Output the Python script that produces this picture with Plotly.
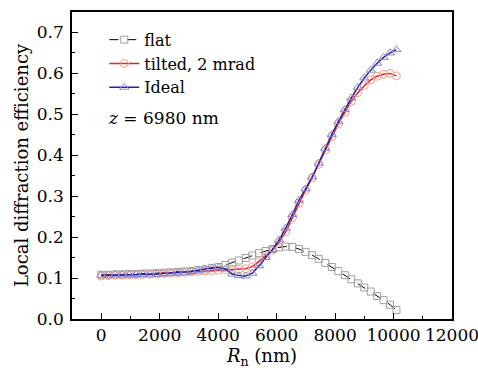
import plotly.graph_objects as go

# Data
r_nm = [0, 240, 480, 719, 958, 1196, 1434, 1671, 1908, 2144, 2380, 2615, 2850,
        3084, 3318, 3551, 3784, 4016, 4248, 4479, 4710, 4940, 5170, 5399, 5628,
        5856, 6084, 6311, 6538, 6764, 6990, 7215, 7440, 7664, 7888, 8111, 8334,
        8556, 8778, 8999, 9220, 9440, 9660, 9879, 10098]

flat = [0.108, 0.108, 0.109, 0.109, 0.110, 0.110, 0.111, 0.111, 0.112, 0.113,
        0.114, 0.115, 0.116, 0.117, 0.119, 0.121, 0.124, 0.127, 0.132, 0.138,
        0.143, 0.149, 0.155, 0.161, 0.166, 0.171, 0.175, 0.177, 0.176, 0.171,
        0.164, 0.156, 0.147, 0.137, 0.127, 0.117, 0.107, 0.097, 0.087, 0.077,
        0.067, 0.056, 0.046, 0.035, 0.022]

tilted = [0.105, 0.106, 0.107, 0.107, 0.108, 0.108, 0.109, 0.109, 0.110, 0.111,
          0.112, 0.113, 0.114, 0.115, 0.116, 0.117, 0.118, 0.119, 0.120, 0.120,
          0.121, 0.123, 0.128, 0.140, 0.154, 0.168, 0.188, 0.213, 0.247, 0.283,
          0.315, 0.345, 0.378, 0.413, 0.446, 0.477, 0.505, 0.532, 0.553, 0.570,
          0.584, 0.593, 0.598, 0.600, 0.594]

ideal = [0.107, 0.107, 0.108, 0.108, 0.108, 0.109, 0.109, 0.110, 0.110, 0.111,
         0.112, 0.113, 0.114, 0.116, 0.119, 0.122, 0.125, 0.126, 0.122, 0.110,
         0.106, 0.105, 0.112, 0.130, 0.150, 0.170, 0.193, 0.222, 0.255, 0.290,
         0.318, 0.347, 0.381, 0.417, 0.451, 0.482, 0.512, 0.540, 0.566, 0.589,
         0.608, 0.625, 0.639, 0.650, 0.658]

series_names = ["flat", "tilted, 2 mrad", "Ideal"]
x_ticks = [0, 2000, 4000, 6000, 8000, 10000, 12000]
x_tick_labels = ["0", "2000", "4000", "6000", "8000", "10000", "12000"]
y_ticks = [0.0, 0.1, 0.2, 0.3, 0.4, 0.5, 0.6, 0.7]

FONT = "DejaVu Serif"

fig = go.Figure()
fig.add_trace(go.Scatter(
    x=r_nm, y=flat, name=series_names[0], mode="lines+markers",
    line=dict(color="black", width=1, dash="dash"),
    marker=dict(symbol="square-open", size=7, color="#a0a0a0", line=dict(width=1))))
fig.add_trace(go.Scatter(
    x=r_nm, y=tilted, name=series_names[1], mode="lines+markers",
    line=dict(color="#e8202a", width=1.5),
    marker=dict(symbol="circle-open", size=8, color="#f4a08a", line=dict(width=1))))
fig.add_trace(go.Scatter(
    x=r_nm, y=ideal, name=series_names[2], mode="lines+markers",
    line=dict(color="#25259a", width=1.5),
    marker=dict(symbol="triangle-up-open", size=8, color="#8585d5", line=dict(width=1))))

fig.add_annotation(
    x=0.09, y=0.655, xref="paper", yref="paper", xanchor="left", yanchor="middle",
    text="<i>z</i> = 6980 nm", showarrow=False,
    font=dict(family=FONT, size=17, color="black"))

axis_common = dict(
    showline=True, linecolor="black", linewidth=1.5, mirror=True,
    ticks="inside", ticklen=6, tickwidth=1.2, tickcolor="black",
    showgrid=False, zeroline=False, automargin=False,
    tickfont=dict(family=FONT, size=17, color="black"),
)

fig.update_layout(
    width=478, height=378,
    margin=dict(l=72, r=26, t=12, b=59),
    paper_bgcolor="white", plot_bgcolor="white",
    font=dict(family=FONT, size=17, color="black"),
    xaxis=dict(range=[-1000, 12000], tickvals=x_ticks, ticktext=x_tick_labels,
               ticklabeloverflow="allow",
               minor=dict(dtick=1000, ticks="inside", ticklen=3, tickcolor="black"),
               title=dict(text="<i>R</i><sub>n</sub> (nm)", standoff=4,
                          font=dict(family=FONT, size=18)),
               **axis_common),
    yaxis=dict(range=[0, 0.75], tickvals=y_ticks, tickformat=".1f",
               ticklabelstandoff=3,
               minor=dict(dtick=0.05, ticks="inside", ticklen=3, tickcolor="black"),
               title=dict(text="Local diffraction efficiency", standoff=4,
                          font=dict(family=FONT, size=18)),
               **axis_common),
    legend=dict(x=0.085, y=0.965, xanchor="left", yanchor="top",
                bgcolor="rgba(0,0,0,0)", font=dict(family=FONT, size=16),
                tracegroupgap=0, itemwidth=30),
    showlegend=True,
)

fig.write_html("out.html", config={"displayModeBar": False},
               post_script="document.body.style.margin='0';document.body.style.overflow='hidden';")
